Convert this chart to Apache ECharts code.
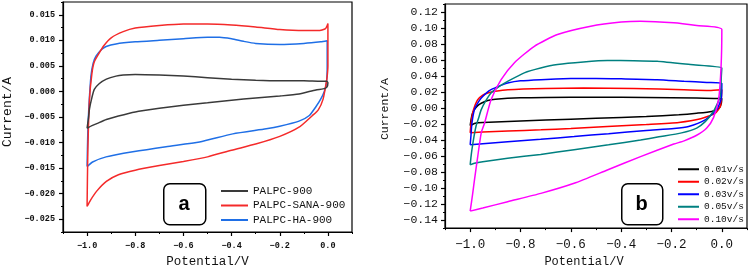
<!DOCTYPE html>
<html><head><meta charset="utf-8">
<script src="https://cdn.jsdelivr.net/npm/echarts@6/dist/echarts.min.js"></script>
<style>html,body{margin:0;padding:0;background:#fff}#c{width:749px;height:273px}</style>
</head><body><div id="c"></div>
<script>
// ---------- Panel a ----------
const aNames = ['PALPC-900', 'PALPC-SANA-900', 'PALPC-HA-900'];
const aXTicks = [-1.0, -0.8, -0.6, -0.4, -0.2, 0.0];
const aYTicks = [-0.025, -0.020, -0.015, -0.010, -0.005, 0.000, 0.005, 0.010, 0.015];

const a900V = [-1.0, -0.995, -0.99, -0.98, -0.97, -0.95, -0.92, -0.88, -0.85, -0.8, -0.7, -0.6, -0.5, -0.4, -0.3, -0.2, -0.1, -0.03, -0.005, 0.0, -0.005, -0.02, -0.05, -0.12, -0.2, -0.3, -0.4, -0.5, -0.6, -0.7, -0.8, -0.87, -0.92, -0.96, -0.98, -1.0];
const a900I = [-0.0072, -0.0055, -0.0034, -0.0012, 0.0004, 0.0015, 0.0024, 0.0030, 0.0032, 0.0033, 0.0032, 0.0030, 0.0027, 0.0024, 0.0022, 0.0021, 0.0021, 0.0020, 0.0020, 0.0017, 0.0008, 0.0005, 0.0003, -0.0005, -0.0009, -0.0013, -0.0017, -0.0022, -0.0027, -0.0033, -0.0040, -0.0048, -0.0055, -0.0063, -0.0067, -0.0072];

const aSanaV = [-1.0, -0.997, -0.99, -0.98, -0.97, -0.95, -0.93, -0.9, -0.85, -0.8, -0.7, -0.6, -0.5, -0.4, -0.3, -0.2, -0.1, -0.04, -0.01, 0.0, 0.0, -0.003, -0.007, -0.02, -0.04, -0.064, -0.12, -0.2, -0.3, -0.4, -0.5, -0.6, -0.7, -0.8, -0.87, -0.92, -0.96, -0.985, -1.0];
const aSanaI = [-0.0225, -0.012, -0.0015, 0.0035, 0.0058, 0.0075, 0.0090, 0.0105, 0.0117, 0.0124, 0.0129, 0.0132, 0.0132, 0.0130, 0.0126, 0.0121, 0.0119, 0.0119, 0.0123, 0.0133, 0.0050, 0.0030, 0.0017, -0.0015, -0.0036, -0.0047, -0.0070, -0.0088, -0.0103, -0.0115, -0.0128, -0.0137, -0.0145, -0.0154, -0.0163, -0.0176, -0.0195, -0.0212, -0.0225];

const aHaV = [-1.0, -0.997, -0.993, -0.984, -0.975, -0.963, -0.94, -0.921, -0.88, -0.8, -0.7, -0.6, -0.5, -0.45, -0.4, -0.35, -0.3, -0.2, -0.1, -0.03, -0.003, -0.003, -0.006, -0.015, -0.03, -0.05, -0.077, -0.12, -0.2, -0.256, -0.395, -0.533, -0.672, -0.81, -0.921, -0.977, -1.0];
const aHaI = [-0.0147, -0.008, -0.0034, 0.0030, 0.0055, 0.0069, 0.0082, 0.0088, 0.0093, 0.0097, 0.0100, 0.0103, 0.0106, 0.0106, 0.0103, 0.0098, 0.0094, 0.0092, 0.0094, 0.0097, 0.0099, 0.0050, 0.0017, 0.0000, -0.0015, -0.0030, -0.0047, -0.0058, -0.0068, -0.0073, -0.0083, -0.0099, -0.0108, -0.0118, -0.0128, -0.0138, -0.0147];

// ---------- Panel b ----------
const bNames = ['0.01v/s', '0.02v/s', '0.03v/s', '0.05v/s', '0.10v/s'];
const bXTicks = [-1.0, -0.8, -0.6, -0.4, -0.2, 0.0];
const bYTicks = [-0.14, -0.12, -0.10, -0.08, -0.06, -0.04, -0.02, 0.00, 0.02, 0.04, 0.06, 0.08, 0.10, 0.12];

const b01V = [-1.0, -0.995, -0.99, -0.983, -0.97, -0.956, -0.93, -0.9, -0.8, -0.7, -0.5, -0.3, -0.1, -0.01, 0.0, -0.002, -0.01, -0.04, -0.1, -0.171, -0.3, -0.5, -0.7, -0.85, -0.95, -0.98, -1.0];
const b01I = [-0.022, -0.012, -0.006, -0.002, 0.003, 0.006, 0.0095, 0.011, 0.0128, 0.0133, 0.0134, 0.0133, 0.0125, 0.012, 0.012, 0.006, 0.0, -0.0042, -0.0065, -0.0084, -0.0105, -0.0128, -0.015, -0.0168, -0.018, -0.019, -0.022];

const b02V = [-1.0, -0.997, -0.99, -0.98, -0.97, -0.95, -0.93, -0.9, -0.85, -0.7, -0.55, -0.35, -0.15, -0.05, 0.0, -0.002, -0.006, -0.026, -0.084, -0.171, -0.3, -0.455, -0.6, -0.719, -0.85, -0.95, -1.0];
const b02I = [-0.031, -0.02, -0.006, 0.004, 0.0104, 0.016, 0.0188, 0.021, 0.023, 0.0245, 0.025, 0.0245, 0.0228, 0.022, 0.023, 0.012, 0.002, -0.0063, -0.0135, -0.018, -0.0205, -0.023, -0.0255, -0.0272, -0.0288, -0.030, -0.031];

const b03V = [-1.0, -0.997, -0.993, -0.983, -0.97, -0.956, -0.935, -0.917, -0.88, -0.851, -0.8, -0.719, -0.6, -0.5, -0.4, -0.257, -0.15, -0.06, 0.0, -0.002, -0.02, -0.066, -0.132, -0.19, -0.3, -0.45, -0.587, -0.72, -0.851, -0.95, -1.0];
const b03I = [-0.046, -0.035, -0.019, -0.002, 0.006, 0.0125, 0.019, 0.023, 0.028, 0.0313, 0.034, 0.0355, 0.0368, 0.037, 0.0365, 0.0355, 0.0335, 0.032, 0.031, 0.0125, -0.002, -0.0147, -0.023, -0.0255, -0.028, -0.032, -0.0356, -0.039, -0.042, -0.0445, -0.046];

const b05V = [-1.0, -0.997, -0.993, -0.985, -0.977, -0.966, -0.956, -0.94, -0.917, -0.88, -0.851, -0.785, -0.72, -0.653, -0.55, -0.455, -0.35, -0.257, -0.125, 0.0, -0.002, -0.006, -0.02, -0.035, -0.066, -0.1, -0.16, -0.25, -0.323, -0.45, -0.587, -0.72, -0.851, -0.95, -0.983, -1.0];
const b05I = [-0.071, -0.062, -0.052, -0.036, -0.023, -0.012, -0.002, 0.008, 0.0188, 0.028, 0.0334, 0.044, 0.050, 0.0543, 0.0575, 0.0593, 0.0592, 0.0585, 0.0543, 0.050, 0.040, 0.015, 0.004, -0.005, -0.017, -0.025, -0.031, -0.036, -0.040, -0.046, -0.052, -0.058, -0.0627, -0.067, -0.069, -0.071];

const b10V = [-1.0, -0.99, -0.983, -0.97, -0.956, -0.943, -0.917, -0.877, -0.825, -0.745, -0.653, -0.521, -0.4, -0.323, -0.191, -0.1, 0.0, -0.003, -0.013, -0.033, -0.06, -0.1, -0.15, -0.191, -0.323, -0.455, -0.587, -0.719, -0.851, -0.95, -1.0];
const b10I = [-0.1288, -0.107, -0.09, -0.0607, -0.031, -0.019, 0.0104, 0.0355, 0.0564, 0.0772, 0.0919, 0.1023, 0.1075, 0.1086, 0.1066, 0.103, 0.098, 0.052, 0.0104, -0.012, -0.025, -0.034, -0.041, -0.045, -0.0607, -0.0774, -0.094, -0.1066, -0.117, -0.125, -0.1288];

// ---------- build ----------
const pairs = (v, i) => v.map((x, k) => [x, i[k]]);
const fmt = d => v => (Math.abs(v) < 1e-9 ? (0).toFixed(d) : v.toFixed(d)).replace('-', '\u2212');
const mono = 'Liberation Mono';

function mainAxis(grid, min, max, ticks, d, font, margin, extra) {
  return Object.assign({
    gridIndex: grid, type: 'value', min: min, max: max,
    axisLine: { show: true, onZero: false, lineStyle: { color: '#000', width: 1.2 } },
    axisTick: { show: true, inside: false, length: 4, customValues: ticks, lineStyle: { color: '#000', width: 1.2 } },
    axisLabel: { customValues: ticks, formatter: fmt(d), margin: margin, color: '#111', fontFamily: mono, fontSize: font.size, fontWeight: font.weight },
    splitLine: { show: false }
  }, extra);
}
function minorAxis(grid, min, max, step, pos) {
  return {
    gridIndex: grid, type: 'value', min: min, max: max, interval: step, position: pos, offset: 0,
    axisLine: { show: false, onZero: false },
    axisTick: { show: true, inside: false, length: 2, lineStyle: { color: '#000', width: 1 } },
    axisLabel: { show: false }, splitLine: { show: false }
  };
}

const aColors = ['#3a3a3a', '#f42a2a', '#1f6fe6'];
const bColors = ['#000000', '#ff0000', '#0000ff', '#008080', '#ff00ff'];
const aData = [pairs(a900V, a900I), pairs(aSanaV, aSanaI), pairs(aHaV, aHaI)];
const bData = [pairs(b01V, b01I), pairs(b02V, b02I), pairs(b03V, b03I), pairs(b05V, b05I), pairs(b10V, b10I)];

const series = [];
aNames.forEach((n, k) => series.push({
  name: n, type: 'line', xAxisIndex: 0, yAxisIndex: 0, data: aData[k], symbol: 'none', smooth: 0.2,
  lineStyle: { color: aColors[k], width: 1.5 }, itemStyle: { color: aColors[k] }, z: 3 - k
}));
bNames.forEach((n, k) => series.push({
  name: n, type: 'line', xAxisIndex: 2, yAxisIndex: 2, data: bData[k], symbol: 'none', smooth: 0.2,
  lineStyle: { color: bColors[k], width: 1.5 }, itemStyle: { color: bColors[k] }
}));

const nameStyle = (size) => ({ fontFamily: mono, fontSize: size, color: '#111' });

const option = {
  animation: false,
  backgroundColor: '#fff',
  grid: [
    { left: 63, right: 397, top: 2, bottom: 40, show: true, borderColor: '#000', borderWidth: 1.2, backgroundColor: 'transparent' },
    { left: 445, right: 2, top: 4, bottom: 44, show: true, borderColor: '#000', borderWidth: 1.2, backgroundColor: 'transparent' }
  ],
  xAxis: [
    mainAxis(0, -1.1, 0.1, aXTicks, 1, { size: 8.5, weight: 'bold' }, 9, {
      position: 'bottom', name: 'Potential/V', nameLocation: 'middle', nameGap: 23, nameTextStyle: nameStyle(12.5)
    }),
    minorAxis(0, -1.1, 0.1, 0.1, 'bottom'),
    mainAxis(1, -1.1, 0.1, bXTicks, 1, { size: 12.5, weight: 'normal' }, 10, {
      position: 'bottom', name: 'Potential/V', nameLocation: 'middle', nameGap: 27, nameTextStyle: Object.assign(nameStyle(12), { padding: [0, 24, 0, 0] })
    }),
    minorAxis(1, -1.1, 0.1, 0.1, 'bottom')
  ],
  yAxis: [
    mainAxis(0, -0.0275, 0.0175, aYTicks, 3, { size: 8.5, weight: 'bold' }, 8, {
      position: 'left', name: 'Current/A', nameLocation: 'middle', nameGap: 49, nameTextStyle: Object.assign(nameStyle(13), { padding: [0, 0, 0, 10] })
    }),
    minorAxis(0, -0.0275, 0.0175, 0.0025, 'left'),
    mainAxis(1, -0.15, 0.13, bYTicks, 2, { size: 11.5, weight: 'normal' }, 7, {
      position: 'left', name: 'Current/A', nameLocation: 'middle', nameGap: 54, nameTextStyle: Object.assign(nameStyle(11.5), { padding: [0, 0, 0, 14] })
    }),
    minorAxis(1, -0.15, 0.13, 0.01, 'left')
  ],
  legend: [
    { data: aNames, orient: 'vertical', left: 216, top: 179, icon: 'rect', itemWidth: 27, itemHeight: 2, itemGap: 0.5,
      textStyle: { fontFamily: mono, fontSize: 11, color: '#111', lineHeight: 14 }, selectedMode: false },
    { data: bNames, orient: 'vertical', left: 673, top: 158, icon: 'rect', itemWidth: 21, itemHeight: 2, itemGap: 0,
      textStyle: { fontFamily: mono, fontSize: 9.5, color: '#111', lineHeight: 12.5 }, selectedMode: false }
  ],
  graphic: [
    { type: 'rect', left: 163, top: 183, shape: { width: 42, height: 41, r: 6 }, style: { fill: '#fff', stroke: '#000', lineWidth: 1.5 }, z: 10 },
    { type: 'text', x: 184, y: 204, style: { text: 'a', font: 'bold 20px "Liberation Sans"', fill: '#000', align: 'center', verticalAlign: 'middle' }, z: 11 },
    { type: 'rect', left: 621, top: 183, shape: { width: 41, height: 41, r: 6 }, style: { fill: '#fff', stroke: '#000', lineWidth: 1.5 }, z: 10 },
    { type: 'text', x: 641.5, y: 204, style: { text: 'b', font: 'bold 20px "Liberation Sans"', fill: '#000', align: 'center', verticalAlign: 'middle' }, z: 11 }
  ],
  series: series
};

const chart = echarts.init(document.getElementById('c'), null, { renderer: 'canvas' });
chart.setOption(option);
</script>
</body></html>
